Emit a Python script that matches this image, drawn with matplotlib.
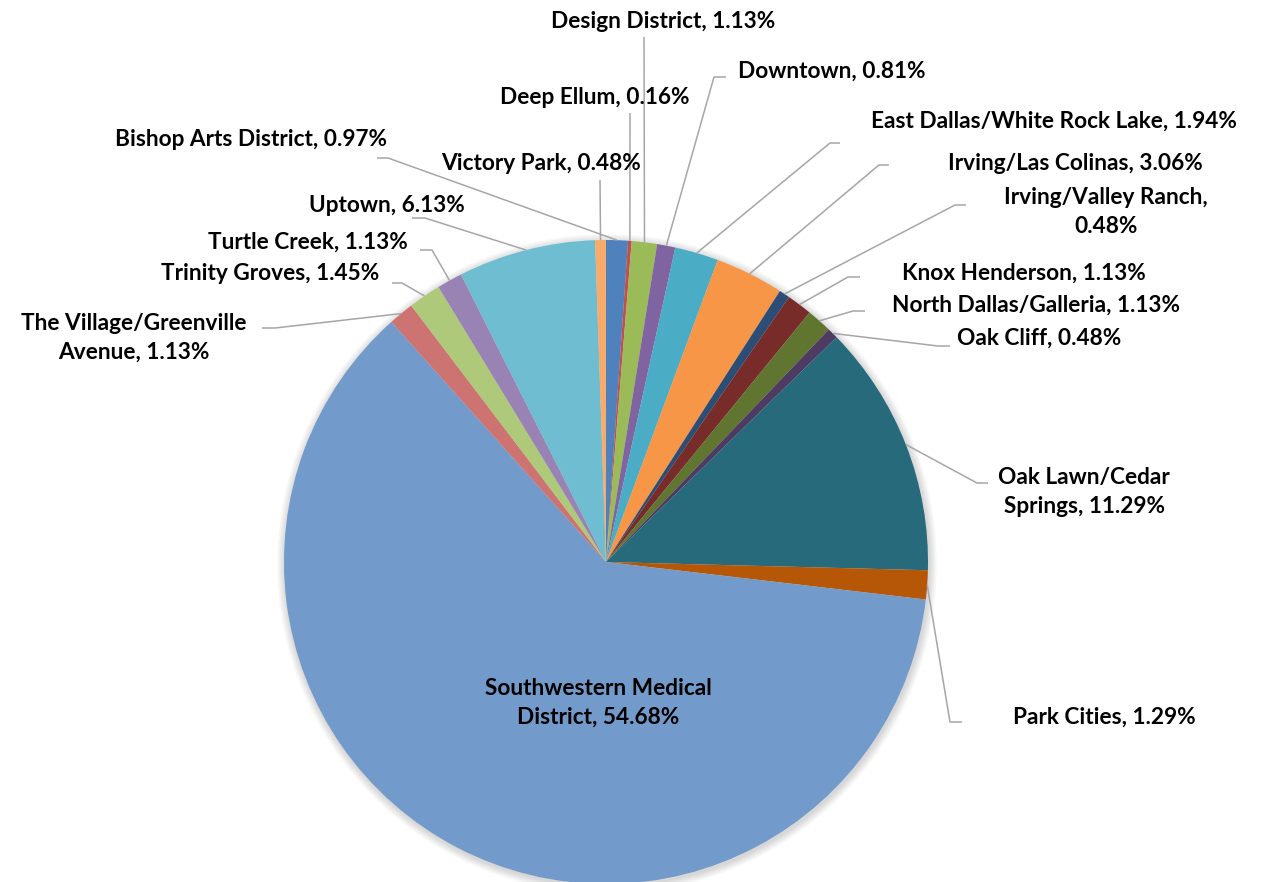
import numpy as np
import matplotlib
matplotlib.use("Agg")
import matplotlib.pyplot as plt

W, H = 1266, 882

# ── data (clockwise from 12 o'clock) ─────────────────────────────────────────
areas = ["Bishop Arts District", "Deep Ellum", "Design District", "Downtown",
         "East Dallas/White Rock Lake", "Irving/Las Colinas", "Irving/Valley Ranch",
         "Knox Henderson", "North Dallas/Galleria", "Oak Cliff", "Oak Lawn/Cedar Springs",
         "Park Cities", "Southwestern Medical District", "The Village/Greenville Avenue",
         "Trinity Groves", "Turtle Creek", "Uptown", "Victory Park"]
pct = [0.97, 0.16, 1.13, 0.81, 1.94, 3.06, 0.48, 1.13, 1.13, 0.48, 11.29,
       1.29, 54.68, 1.13, 1.45, 1.13, 6.13, 0.48]
label_text = ["Bishop Arts District, 0.97%", "Deep Ellum, 0.16%", "Design District, 1.13%",
              "Downtown, 0.81%", "East Dallas/White Rock Lake, 1.94%", "Irving/Las Colinas, 3.06%",
              "Irving/Valley Ranch,\n0.48%", "Knox Henderson, 1.13%", "North Dallas/Galleria, 1.13%",
              "Oak Cliff, 0.48%", "Oak Lawn/Cedar\nSprings, 11.29%", "Park Cities, 1.29%",
              "Southwestern Medical\nDistrict, 54.68%", "The Village/Greenville\nAvenue, 1.13%",
              "Trinity Groves, 1.45%", "Turtle Creek, 1.13%", "Uptown, 6.13%", "Victory Park, 0.48%"]

colors = ["#4F81BD", "#C0504D", "#9BBB59", "#8064A2", "#4BACC6", "#F79646",
          "#2C4D75", "#772C2A", "#5F7530", "#4D3B62", "#276A7C", "#B65708",
          "#729ACA", "#CD7371", "#AFC97A", "#9983B5", "#6FBDD1", "#F9AB6B"]

# ── layout (pixel coords, y down): label centre + leader path away from the slice
CX, CY, R = 606, 562, 322
layout = [
    ((251, 139), [(388, 158), (377, 158)]),
    ((595, 97),  [(630, 113)]),
    ((663, 22),  [(644, 37)]),
    ((832, 71),  [(714, 77), (726, 77)]),
    ((1054, 121), [(830, 143), (840, 143)]),
    ((1075, 163), [(879, 165), (889, 165)]),
    ((1106, 212), [(955, 205), (966, 205)]),
    ((1024, 273), [(848, 277), (860, 277)]),
    ((1036, 305), [(853, 311), (865, 311)]),
    ((1039, 338), [(938, 346), (950, 346)]),
    ((1084, 492), [(977, 483), (988, 483)]),
    ((1104, 717), [(950, 722), (962, 722)]),
    ((598, 703), None),
    ((134, 338), [(275, 328), (262, 328)]),
    ((270, 274), [(402, 283), (392, 283)]),
    ((308, 242), [(432, 250), (420, 250)]),
    ((387, 205), [(425, 218), (412, 218)]),
    ((541, 163), [(600, 180)]),
]

plt.rcParams["font.family"] = ["Lato", "DejaVu Sans"]

fig = plt.figure(figsize=(W / 100, H / 100), dpi=100)
ax = fig.add_axes([0, 0, 1, 1])
ax.set_xlim(0, W); ax.set_ylim(0, H); ax.set_aspect("equal"); ax.axis("off")

def P(x, y): return x, H - y

# soft shadow round the pie
for k in range(8, 0, -1):
    ax.add_patch(plt.Circle(P(CX + 1, CY + 2), R + k, color="black", alpha=0.018, lw=0))

ax.pie(pct, colors=colors, startangle=90, counterclock=False, radius=R,
       center=P(CX, CY), wedgeprops=dict(linewidth=0), frame=True)
ax.set_xlim(0, W); ax.set_ylim(0, H); ax.axis("off")

total = sum(pct)
cum = np.cumsum([0] + pct[:-1])
for i, txt in enumerate(label_text):
    (tx, ty), path = layout[i]
    ax.text(*P(tx, ty), txt, ha="center", va="center", fontsize=16.3, fontweight="bold",
            color="black", linespacing=1.42, multialignment="center")
    if path is None:
        continue
    a = np.deg2rad(360 * (cum[i] + pct[i] / 2) / total)
    ex, ey = CX + R * np.sin(a), CY - R * np.cos(a)
    pts = [(ex, ey)] + path
    xs = [p[0] for p in pts]; ys = [H - p[1] for p in pts]
    ax.plot(xs, ys, color="#A6A6A6", lw=1.1, solid_capstyle="butt")

fig.savefig("out.png", dpi=100)
